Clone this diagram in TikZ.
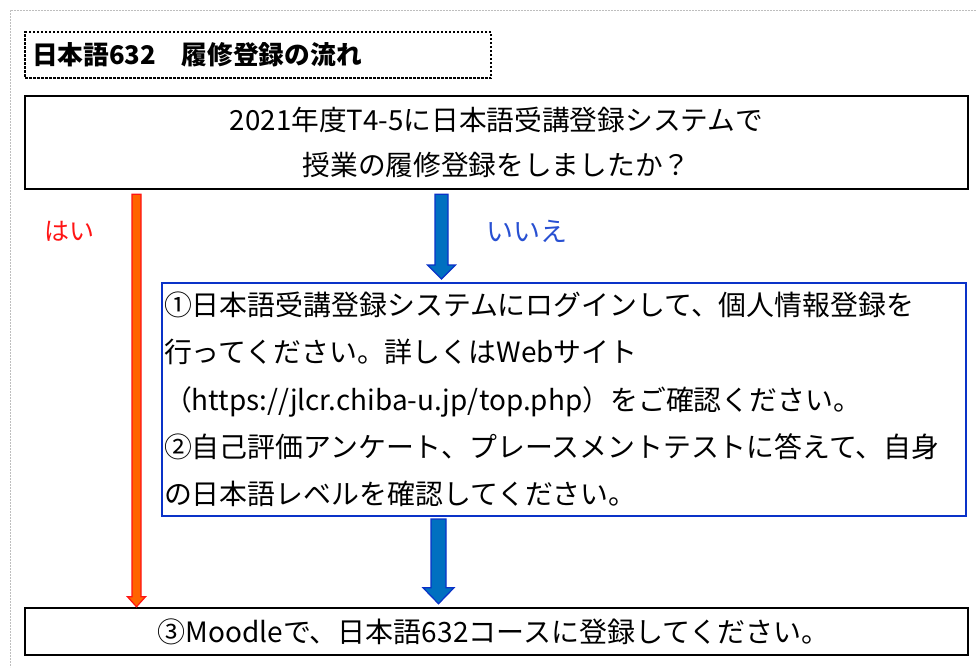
\documentclass[tikz,border=0pt]{standalone}
\usepackage{fontspec}
\setmainfont{Noto Sans CJK JP}
\usetikzlibrary{calc}
\definecolor{bfill}{RGB}{0,112,192}
\definecolor{bline}{RGB}{10,50,200}
\definecolor{ofill}{RGB}{255,100,0}
\definecolor{rline}{RGB}{255,20,20}
\definecolor{iiecol}{RGB}{40,80,210}
\definecolor{framegray}{RGB}{190,190,190}
\newcommand\fatarrowpath[6]{%
  \draw[#1] ($(#2)+(-#4,0)$) -- ($(#3)+(-#4,-#6)$) -- ($(#3)+(-#5,-#6)$) -- (#3)
    -- ($(#3)+(#5,-#6)$) -- ($(#3)+(#4,-#6)$) -- ($(#2)+(#4,0)$) -- cycle;}
\begin{document}
\begin{tikzpicture}[x=1pt,y=-1pt,
  titlebox/.style={draw, dash pattern=on 2.5pt off 1.5pt, line width=2.2pt,
    text width=452pt, inner xsep=7pt, inner ysep=0pt, minimum height=46pt, align=left,
    font=\fontsize{25.7}{30}\selectfont\bfseries},
  blackbox/.style={draw, line width=2.5pt, minimum width=943pt, align=center,
    inner sep=0pt},
  bluebox/.style={draw=bline, line width=2pt, text width=800pt, inner xsep=2pt,
    inner ysep=0pt, minimum height=233pt, align=left,
    font=\fontsize{27.9}{47.3}\selectfont},
  redarrow/.style={draw=rline, fill=ofill, line width=1.2pt},
  bluearrow/.style={draw=bline, fill=bfill, line width=1.2pt},
  yeslabel/.style={text=rline, font=\fontsize{25}{28}\selectfont},
  nolabel/.style={text=iiecol, font=\fontsize{27}{30}\selectfont}]
\useasboundingbox (0,0) rectangle (976,667);
\fill[white] (0,0) rectangle (976,667);
\draw[framegray, line width=1pt, dash pattern=on 2pt off 1pt] (976,10) -- (10,10) -- (10,667);

\node[titlebox, anchor=north west] (title) at (24,31) {日本語632　履修登録の流れ};
\node[blackbox, minimum height=93pt, font=\fontsize{27.7}{45}\selectfont] (q) at (496.5,142.5)
  {2021年度T4-5に日本語受講登録システムで\\授業の履修登録をしましたか？};
\node[bluebox] (b) at (564,399.5)
  {①日本語受講登録システムにログインして、個人情報登録を\\
   行ってください。詳しくはWebサイト\\
   （https://jlcr.chiba-u.jp/top.php）をご確認ください。\\
   ②自己評価アンケート、プレースメントテストに答えて、自身\\
   の日本語レベルを確認してください。};
\node[blackbox, minimum height=47pt, font=\fontsize{28}{32}\selectfont] (fin) at (496.5,631.5)
  {\hspace*{-6pt}③Moodleで、日本語632コースに登録してください。};

\node[yeslabel] (yes) at (69,231) {はい};
\node[nolabel] (no) at (527,231) {いいえ};

\coordinate (rx) at (136.5,0);
\coordinate (bx1) at (441.5,0);
\coordinate (bx2) at (438.5,0);
\coordinate (r1) at ($(rx |- q.south)+(0,4)$);
\coordinate (r2) at ($(rx |- fin.north)+(0,0)$);
\coordinate (u1) at ($(bx1 |- q.south)+(0,4)$);
\coordinate (u2) at ($(bx1 |- b.north)+(0,-3)$);
\coordinate (v1) at ($(bx2 |- b.south)+(0,2)$);
\coordinate (v2) at ($(bx2 |- fin.north)+(0,-3)$);
\fatarrowpath{redarrow}{r1}{r2}{4.5}{9}{10}
\fatarrowpath{bluearrow}{u1}{u2}{6.5}{14}{14}
\fatarrowpath{bluearrow}{v1}{v2}{7.5}{15.5}{16}
\end{tikzpicture}
\end{document}
